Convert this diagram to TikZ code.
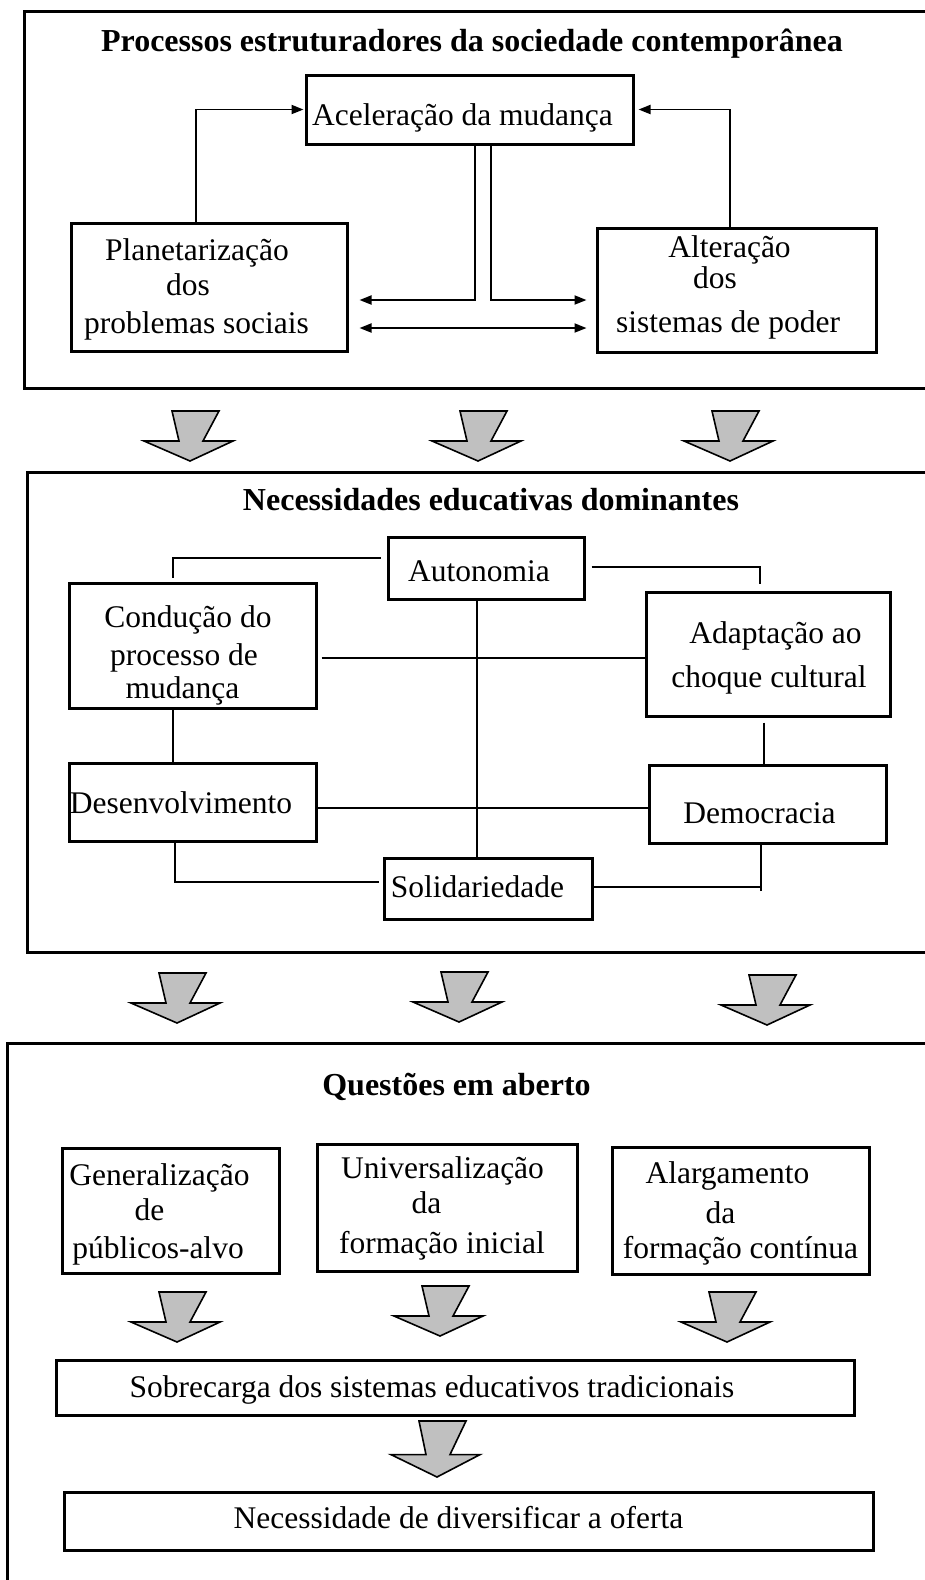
\documentclass[tikz,border=0pt]{standalone}
\usepackage{fontspec}
\setmainfont{Liberation Serif}
\usetikzlibrary{arrows.meta,calc}
\definecolor{arrgray}{RGB}{192,192,192}
\tikzset{
  frame/.style={draw=black, line width=3pt},
  box/.style={draw=black, line width=3pt, rectangle, inner sep=0pt},
  conn/.style={draw=black, line width=1.8pt},
  arr/.style={-{Triangle[length=12pt,width=9pt]}},
  arrtwo/.style={{Triangle[length=12pt,width=9pt]}-{Triangle[length=12pt,width=9pt]}},
  tx/.style={inner sep=0pt, anchor=base, font=\fontsize{31.5}{36}\selectfont},
  ttl/.style={inner sep=0pt, anchor=base, font=\fontsize{32}{38}\selectfont\bfseries},
  bigarrow/.pic={\path[draw=black, line width=1.6pt, fill=arrgray, line join=miter]
     (-18,-50) -- (29,-50) -- (13,-20) -- (43,-20) -- (0,0) -- (-46,-20) -- (-11,-20) -- cycle;}
}
\begin{document}
\begin{tikzpicture}[x=1pt,y=-1pt]
\useasboundingbox (0,0) rectangle (925,1580);
\clip (0,0) rectangle (925,1580);
\fill[white] (0,0) rectangle (925,1580);

% ---------- frames ----------
\draw[frame] (945,11) -- (24,11) -- (24,388) -- (945,388);
\draw[frame] (945,472) -- (27,472) -- (27,952) -- (945,952);
\draw[frame] (945,1043) -- (7,1043) -- (7,1600);

% ---------- section 1 ----------
\node[ttl] (t1) at (472,51) {Processos estruturadores da sociedade contemporânea};

\node[box, minimum width=327pt, minimum height=69pt] (acel) at (469.5,109.5) {};
\node[box, minimum width=276pt, minimum height=128pt] (plan) at (209,287) {};
\node[box, minimum width=279pt, minimum height=124pt] (alt) at (736.5,290) {};

\node[tx] (acelt) at (462.5,125) {Aceleração da mudança};
\node[tx] (plant1) at (197,260) {Planetarização};
\node[tx] (plant2) at (188,295) {dos};
\node[tx] (plant3) at (196.5,333) {problemas sociais};
\node[tx] (altt1) at (729.5,257) {Alteração};
\node[tx] (altt2) at (715,288) {dos};
\node[tx] (altt3) at (728,332) {sistemas de poder};

\coordinate (xL) at (196,0);
\coordinate (xR) at (730,0);
\draw[conn,arr,shorten >=1pt] (xL |- plan.north) |- (acel.west);
\draw[conn,arr,shorten >=4pt] (xR |- alt.north) |- (acel.east);

\coordinate (dl) at (475,300);
\coordinate (dr) at (491,300);
\coordinate (dd) at (470,328);
\draw[conn,arr,shorten >=11pt] (dl |- acel.south) -- (dl) -- (plan.east |- dl);
\draw[conn,arr,shorten >=9pt] (dr |- acel.south) -- (dr) -- (alt.west |- dr);
\draw[conn,arrtwo,shorten <=11pt,shorten >=9pt] (plan.east |- dd) -- (alt.west |- dd);

% ---------- arrows row 1 ----------
\pic (a11) at (190,461) {bigarrow};
\pic (a12) at (478,461) {bigarrow};
\pic (a13) at (730,461) {bigarrow};

% ---------- section 2 ----------
\node[ttl] (t2) at (491,510) {Necessidades educativas dominantes};

\node[box, minimum width=196pt, minimum height=62pt] (auto) at (486,568) {};
\node[box, minimum width=247pt, minimum height=125pt] (cond) at (192.5,645.5) {};
\node[box, minimum width=244pt, minimum height=124pt] (adap) at (768,654) {};
\node[box, minimum width=247pt, minimum height=78pt] (desen) at (192.5,802) {};
\node[box, minimum width=237pt, minimum height=78pt] (demo) at (767.5,804) {};
\node[box, minimum width=208pt, minimum height=61pt] (soli) at (488,888.5) {};

\node[tx] (autot) at (479,581) {Autonomia};
\node[tx] (condt1) at (188,627) {Condução do};
\node[tx] (condt2) at (184,665) {processo de};
\node[tx] (condt3) at (182.5,698) {mudança};
\node[tx] (adapt1) at (775.5,643) {Adaptação ao};
\node[tx] (adapt2) at (769,687) {choque cultural};
\node[tx] (desent) at (181,813) {Desenvolvimento};
\node[tx] (demot) at (759.5,823) {Democracia};
\node[tx] (solit) at (477.5,897) {Solidariedade};

\coordinate (m1) at (173,558);
\coordinate (m2) at (760,567);
\coordinate (m3) at (477,0);
\coordinate (m4) at (0,658);
\coordinate (m5) at (173,0);
\coordinate (m6) at (764,0);
\coordinate (m7) at (0,808);
\coordinate (m8) at (175,882);
\coordinate (m9) at (761,887);
\coordinate (m9b) at (761,891);
\draw[conn,shorten <=6pt,shorten >=4pt] (auto.west |- m1) -| (m1 |- cond.north);
\draw[conn,shorten <=6pt,shorten >=7pt] (auto.east |- m2) -| (m2 |- adap.north);
\draw[conn] (m3 |- auto.south) -- (m3 |- soli.north);
\draw[conn,shorten <=4pt] (cond.east |- m4) -- (adap.west |- m4);
\draw[conn] (m5 |- cond.south) -- (m5 |- desen.north);
\draw[conn,shorten <=5pt] (m6 |- adap.south) -- (m6 |- demo.north);
\draw[conn] (desen.east |- m7) -- (demo.west |- m7);
\draw[conn,shorten >=4pt] (m8 |- desen.south) |- (soli.west |- m8);
\draw[conn] (soli.east |- m9) -- (m9);
\draw[conn] (m9b) -- (m9b |- demo.south);

% ---------- arrows row 2 ----------
\pic (a21) at (177,1023) {bigarrow};
\pic (a22) at (459,1022) {bigarrow};
\pic (a23) at (767,1025) {bigarrow};

% ---------- section 3 ----------
\node[ttl] (t3) at (456.5,1095) {Questões em aberto};

\node[box, minimum width=217pt, minimum height=125pt] (gen) at (170.5,1210.5) {};
\node[box, minimum width=260pt, minimum height=127pt] (univ) at (447,1207.5) {};
\node[box, minimum width=257pt, minimum height=127pt] (alarg) at (740.5,1210.5) {};

\node[tx] (gent1) at (159.5,1185) {Generalização};
\node[tx] (gent2) at (149.5,1220) {de};
\node[tx] (gent3) at (158,1258) {públicos-alvo};
\node[tx] (univt1) at (442.5,1178) {Universalização};
\node[tx] (univt2) at (426.5,1213) {da};
\node[tx] (univt3) at (442,1253) {formação inicial};
\node[tx] (alargt1) at (727.5,1183) {Alargamento};
\node[tx] (alargt2) at (720.5,1223) {da};
\node[tx] (alargt3) at (740.5,1258) {formação contínua};

\pic (a31) at (177,1342) {bigarrow};
\pic (a32) at (440,1336) {bigarrow};
\pic (a33) at (727,1342) {bigarrow};

\node[box, minimum width=798pt, minimum height=55pt] (sobre) at (455,1387.5) {};
\node[tx] (sobret) at (432,1397) {Sobrecarga dos sistemas educativos tradicionais};

\pic[yscale=1.12] (a4) at (437,1477) {bigarrow};

\node[box, minimum width=809pt, minimum height=58pt] (neces) at (468.5,1521) {};
\node[tx] (necest) at (458.5,1528) {Necessidade de diversificar a oferta};
\end{tikzpicture}
\end{document}
